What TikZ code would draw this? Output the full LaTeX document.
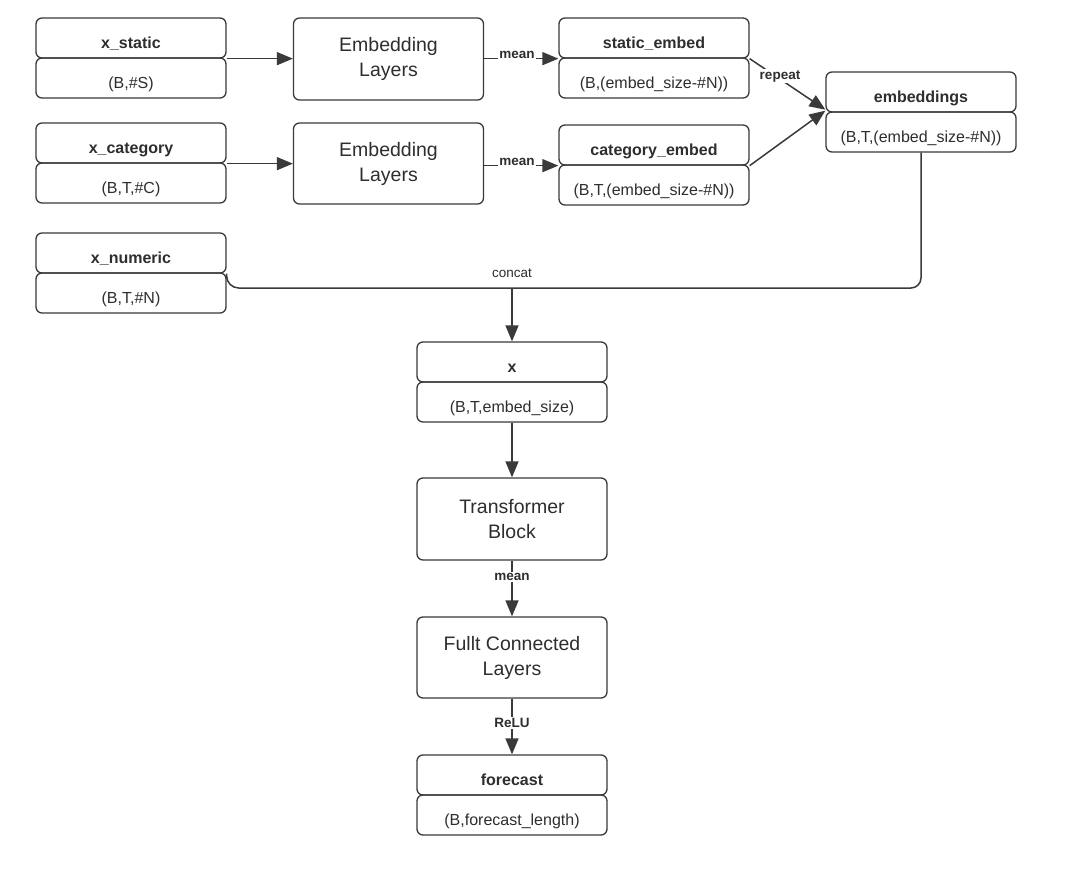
\documentclass[tikz,border=0pt]{standalone}
\usepackage{fontspec}
\setmainfont{Liberation Sans}
\usetikzlibrary{arrows.meta,calc}
\definecolor{ln}{HTML}{3A3A3A}
\definecolor{tx}{HTML}{2E2E2E}
\tikzset{
  half/.style={draw=ln, line width=1.3pt, rounded corners=6pt, minimum width=190pt, minimum height=40pt, inner sep=0pt, text=tx, font=\fontsize{16}{18}\selectfont, text height=21.5pt, text depth=0pt},
  head/.style={half, font=\fontsize{16}{18}\selectfont\bfseries},
  bigbox/.style={draw=ln, line width=1.3pt, rounded corners=6pt, minimum width=190pt, minimum height=81pt, inner sep=0pt, text=tx, align=center, font=\fontsize{19.5}{25}\selectfont},
  conn/.style={draw=ln, line width=1.5pt, -{Triangle[length=16pt,width=13pt]}},
  plain/.style={draw=ln, line width=1.5pt},
  lab/.style={text=tx, font=\fontsize{13.5}{15}\selectfont\bfseries, inner sep=1pt, fill=white},
}
\begin{document}
\begin{tikzpicture}[x=1pt,y=-1pt]
\fill[white] (0,0) rectangle (1080,891);
\useasboundingbox (0,0) rectangle (1080,891);

% left inputs
\node[head] (xsT) at (131,38) {x\_static};
\node[half] (xsB) at (131,78) {(B,\#S)};
\node[head] (xcT) at (131,143) {x\_category};
\node[half] (xcB) at (131,183) {(B,T,\#C)};
\node[head] (xnT) at (131,253) {x\_numeric};
\node[half] (xnB) at (131,293) {(B,T,\#N)};

% embedding layers
\node[bigbox, minimum height=82pt] (el1) at (388.5,59) {Embedding\\Layers};
\node[bigbox] (el2) at (388.5,163.5) {Embedding\\Layers};

% embeds
\node[head] (seT) at (654,38) {static\_embed};
\node[half] (seB) at (654,78) {(B,(embed\_size-\#N))};
\node[head] (ceT) at (654,145) {category\_embed};
\node[half] (ceB) at (654,185) {(B,T,(embed\_size-\#N))};
\node[head] (emT) at (921,92) {embeddings};
\node[half] (emB) at (921,132) {(B,T,(embed\_size-\#N))};

% main column
\node[head] (xT) at (512,362) {x};
\node[half] (xB) at (512,402) {(B,T,embed\_size)};
\node[bigbox, minimum height=82pt] (tb) at (512,519) {Transformer\\Block};
\node[bigbox] (fc) at (512,657.5) {Fullt Connected\\Layers};
\node[head] (foT) at (512,775) {forecast};
\node[half] (foB) at (512,815) {(B,forecast\_length)};

% connectors
\draw[conn] (xsT.south east) -- (el1.west |- xsT.south east);
\draw[conn] (xcT.south east) -- (el2.west |- xcT.south east);
\draw[conn] (el1.east |- seT.south) -- (seT.south west);
\node[lab] (m1) at (517,55) {mean};
\draw[conn] (el2.east |- ceT.south) -- (ceT.south west);
\node[lab] (m2) at (517,162) {mean};
\draw[conn] (seT.south east) -- ($(emT.south west)+(0,-3)$);
\node[lab] (rp) at (780,76) {repeat};
\draw[conn] (ceT.south east) -- ($(emT.south west)+(0,-2)$);

\coordinate (j) at (512,288);
\draw[plain, rounded corners=12pt] (xnT.south east) |- (j);
\draw[plain, rounded corners=10pt] (emB.south) |- (j);
\draw[conn] (j) -- (xT.north);
\node[text=tx, font=\fontsize{13.5}{15}\selectfont, inner sep=1pt] (cc) at (512,273) {concat};

\draw[conn] (xB.south) -- (tb.north);
\draw[conn] (tb.south) -- (fc.north);
\node[lab] (m3) at (512,577) {mean};
\draw[conn] (fc.south) -- (foT.north);
\node[lab] (rl) at (512,723) {ReLU};
\end{tikzpicture}
\end{document}
